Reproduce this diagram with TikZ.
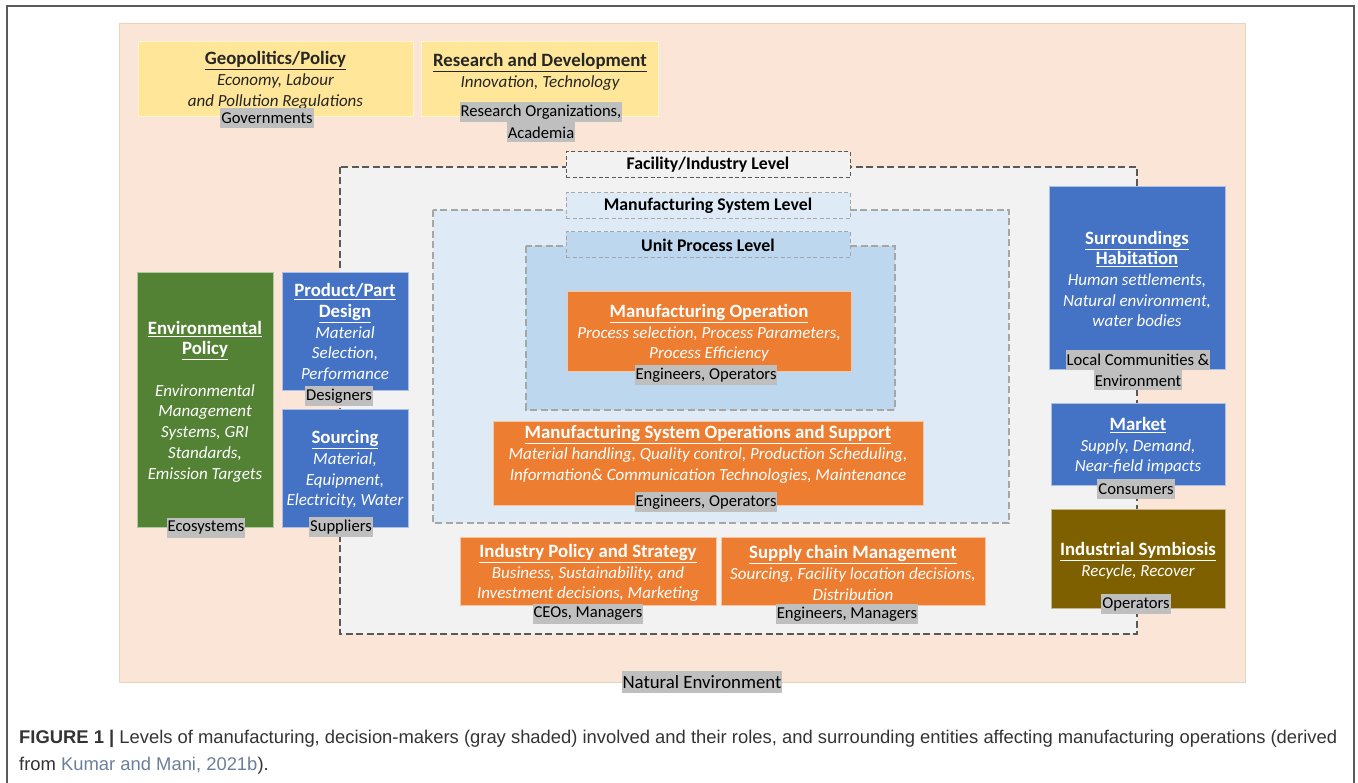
\documentclass[tikz,border=0pt]{standalone}
\usepackage{fontspec}
\setmainfont{Carlito}
\newfontfamily\capfont{Liberation Sans}
\usetikzlibrary{positioning}

\definecolor{peach}{HTML}{FBE5D6}
\definecolor{peachline}{HTML}{E6D7BC}
\definecolor{facgray}{HTML}{F2F2F2}
\definecolor{dashdark}{HTML}{595959}
\definecolor{dashlight}{HTML}{A6A6A6}
\definecolor{syslight}{HTML}{DEEBF7}
\definecolor{unitblue}{HTML}{BDD7EE}
\definecolor{govyellow}{HTML}{FFE699}
\definecolor{oporange}{HTML}{ED7D31}
\definecolor{envblue}{HTML}{4472C4}
\definecolor{ecogreen}{HTML}{548235}
\definecolor{symolive}{HTML}{7F6000}
\definecolor{rolegray}{HTML}{BFBFBF}
\definecolor{framegray}{HTML}{5A5A5A}
\definecolor{capgray}{HTML}{333333}
\definecolor{refblue}{HTML}{6A7F99}

\newcommand{\boxtitle}[1]{\underline{\textbf{#1}}}
\newcommand{\boxdesc}[1]{{\fontsize{17}{20.7}\selectfont\itshape #1}}

\tikzset{
	box/.style={rectangle, inner sep=0pt, fill=#1, draw=white!55!#1, line width=0.8},
	txt/.style={align=center, inner sep=0pt, text=white, font=\fontsize{18.8}{20.7}\selectfont},
	darktxt/.style={txt, text=black!85},
	role/.style={fill=rolegray, inner xsep=1pt, inner ysep=0pt, minimum height=20, text=black, font=\fontsize{16.6}{20}\selectfont},
	levelbox/.style={rectangle, minimum width=284, minimum height=26, inner sep=0pt, dash pattern=on 4pt off 2.5pt, line width=1, font=\fontsize{17.8}{20}\selectfont\bfseries},
	levelline/.style={dash pattern=on 7pt off 3.5pt, line width=1.3}
}

\begin{document}
\begin{tikzpicture}[x=1pt, y=-1pt]
	\useasboundingbox (0,0) rectangle (1358,783);
	\draw[framegray, line width=1.5] (7,783) -- (7,6) -- (1354,6) -- (1354,783);
	\draw[fill=peach, draw=peachline, line width=1] (119,24) rectangle (1245,682);

	% nested levels
	\draw[levelline, draw=dashdark, fill=facgray] (340,167) rectangle (1137,634);
	\draw[levelline, draw=dashlight, fill=syslight] (433,210) rectangle (1009,523);
	\draw[levelline, draw=dashlight, fill=unitblue] (526,246) rectangle (895,410);
	\node[levelbox, draw=dashdark, fill=facgray] (faclevel) at (708,165) {Facility/Industry Level};
	\node[levelbox, draw=dashlight, fill=syslight] (syslevel) at (708,206) {Manufacturing System Level};
	\node[levelbox, draw=dashlight, fill=unitblue] (unitlevel) at (708,245) {Unit Process Level};

	% top row
	\node[box=govyellow, minimum width=275, minimum height=75] (geo) at (275.5,78.5) {};
	\node[darktxt] (geotxt) at (275.5,80.5) {\boxtitle{Geopolitics/Policy}\\\boxdesc{Economy, Labour}\\\boxdesc{and Pollution Regulations}};
	\node[role] (geor) at (267,118) {Governments};
	\node[box=govyellow, minimum width=237, minimum height=75] (rnd) at (539.5,78.5) {};
	\node[darktxt] (rndtxt) at (540,72) {\boxtitle{Research and Development}\\\boxdesc{Innovation, Technology}};
	\node[role] (rndr) at (541,112) {Research Organizations,};
	\node[role, below=0pt of rndr] (rndr2) {Academia};

	% left column
	\node[box=ecogreen, minimum width=136, minimum height=255] (env) at (205,399.5) {};
	\node[txt] (envtxt) at (205,401.5) {\boxtitle{Environmental}\\\boxtitle{Policy}\\[20.7pt]\boxdesc{Environmental}\\\boxdesc{Management}\\\boxdesc{Systems, GRI}\\\boxdesc{Standards,}\\\boxdesc{Emission Targets}};
	\node[role] (envr) at (206,528) {Ecosystems};
	\node[box=envblue, minimum width=126, minimum height=118] (prod) at (345,331) {};
	\node[txt] (prodtxt) at (345,332.5) {\boxtitle{Product/Part}\\\boxtitle{Design}\\\boxdesc{Material}\\\boxdesc{Selection,}\\\boxdesc{Performance}};
	\node[role] (prodr) at (339,396) {Designers};
	\node[box=envblue, minimum width=126, minimum height=118] (src) at (345,468) {};
	\node[txt] (srctxt) at (345,469.5) {\boxtitle{Sourcing}\\\boxdesc{Material,}\\\boxdesc{Equipment,}\\\boxdesc{Electricity, Water}};
	\node[role] (srcr) at (341,527) {Suppliers};

	% inside the levels
	\node[box=oporange, minimum width=284, minimum height=80] (mop) at (709,331) {};
	\node[txt] (moptxt) at (709,333) {\boxtitle{Manufacturing Operation}\\\boxdesc{Process selection, Process Parameters,}\\\boxdesc{Process Efficiency}};
	\node[role] (mopr) at (706,375) {Engineers, Operators};
	\node[box=oporange, minimum width=430, minimum height=84] (mso) at (708,463) {};
	\node[txt] (msotxt) at (708,454.5) {\boxtitle{Manufacturing System Operations and Support}\\\boxdesc{Material handling, Quality control, Production Scheduling,}\\\boxdesc{Information\& Communication Technologies, Maintenance}};
	\node[role] (msor) at (706,502) {Engineers, Operators};
	\node[box=oporange, minimum width=256, minimum height=68] (ips) at (588,571) {};
	\node[txt] (ipstxt) at (588,573) {\boxtitle{Industry Policy and Strategy}\\\boxdesc{Business, Sustainability, and}\\\boxdesc{Investment decisions, Marketing}};
	\node[role] (ipsr) at (588,614) {CEOs, Managers};
	\node[box=oporange, minimum width=264, minimum height=68] (scm) at (853,571) {};
	\node[txt] (scmtxt) at (853,573) {\boxtitle{Supply chain Management}\\\boxdesc{Sourcing, Facility location decisions,}\\\boxdesc{Distribution}};
	\node[role] (scmr) at (847,614) {Engineers, Managers};

	% right column
	\node[box=envblue, minimum width=176, minimum height=183] (surr) at (1137,277.5) {};
	\node[txt] (surrtxt) at (1137,279) {\boxtitle{Surroundings}\\\boxtitle{Habitation}\\\boxdesc{Human settlements,}\\\boxdesc{Natural environment,}\\\boxdesc{water bodies}};
	\node[role] (surrr) at (1138,360) {Local Communities \&};
	\node[role, below=0pt of surrr] (surrr2) {Environment};
	\node[box=envblue, minimum width=174, minimum height=82] (mkt) at (1138,444) {};
	\node[txt] (mkttxt) at (1138,446) {\boxtitle{Market}\\\boxdesc{Supply, Demand,}\\\boxdesc{Near-field impacts}};
	\node[role] (mktr) at (1136,489) {Consumers};
	\node[box=symolive, minimum width=174, minimum height=99] (sym) at (1138,558.5) {};
	\node[txt] (symtxt) at (1138,560.5) {\boxtitle{Industrial Symbiosis}\\\boxdesc{Recycle, Recover}};
	\node[role] (symr) at (1136,604) {Operators};

	\node[role, minimum height=22, font=\fontsize{18.8}{20}\selectfont] (natr) at (702,682) {Natural Environment};

	% caption
	\node[anchor=west, inner sep=0pt, text=capgray, font=\capfont\fontsize{18.4}{20}\selectfont] (cap1) at (19,739) {\textbf{FIGURE 1 |} Levels of manufacturing, decision-makers (gray shaded) involved and their roles, and surrounding entities affecting manufacturing operations (derived};
	\node[anchor=west, inner sep=0pt, text=capgray, font=\capfont\fontsize{18.4}{20}\selectfont] (cap2) at (19,766) {from \textcolor{refblue}{Kumar and Mani, 2021b}).};
\end{tikzpicture}
\end{document}
